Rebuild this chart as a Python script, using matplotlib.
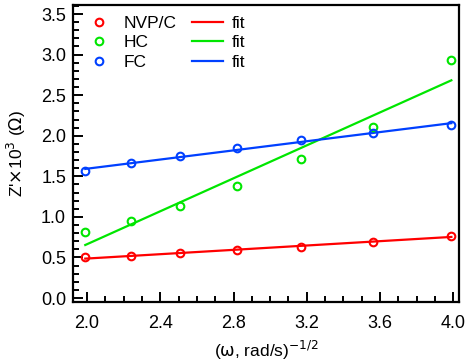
import numpy as np
import matplotlib
matplotlib.use("Agg")
import matplotlib.pyplot as plt
from matplotlib.ticker import MultipleLocator

plt.rcParams["font.family"] = ["Liberation Sans", "DejaVu Sans"]

# data: x = omega^-1/2, y = Z' x 10^3
x = [1.99, 2.24, 2.51, 2.82, 3.17, 3.56, 3.99]
nvp_c = [0.50, 0.52, 0.55, 0.59, 0.63, 0.69, 0.77]
hc = [0.81, 0.95, 1.13, 1.38, 1.71, 2.11, 2.93]
fc = [1.56, 1.66, 1.75, 1.85, 1.95, 2.03, 2.13]

series = [("NVP/C", nvp_c, "#ff0000"), ("HC", hc, "#00e600"), ("FC", fc, "#0040ff")]

fig = plt.figure(figsize=(4.71, 3.64), dpi=100)
ax = fig.add_axes([0.155, 0.170, 0.820, 0.816])

xs = np.array(x)
pts, lines = [], []
for name, y, c in series:
    p, = ax.plot(xs, y, "o", mfc="none", mec=c, mew=1.5, ms=5.5, label=name, zorder=3)
    k, b = np.polyfit(xs, y, 1)
    l, = ax.plot(xs, k * xs + b, "-", color=c, lw=1.6, label="fit", zorder=2)
    pts.append(p)
    lines.append(l)

ax.legend(pts + lines, [s[0] for s in series] + ["fit"] * 3, ncol=2, loc="upper left",
          frameon=False, fontsize=12.5, handlelength=1.8, handletextpad=0.5,
          columnspacing=0.9, labelspacing=0.25, borderaxespad=0.2,
          bbox_to_anchor=(0.0, 1.0))

ax.set_xlim(1.923, 4.033)
ax.set_ylim(-0.05, 3.61)
ax.xaxis.set_major_locator(MultipleLocator(0.4))
ax.xaxis.set_minor_locator(MultipleLocator(0.1))
ax.yaxis.set_major_locator(MultipleLocator(0.5))
ax.yaxis.set_minor_locator(MultipleLocator(0.1))
ax.tick_params(which="both", direction="in", top=False, right=False, labelsize=13, width=1.4)
ax.tick_params(which="major", length=7)
ax.tick_params(which="minor", length=4)
ax.tick_params(axis="x", which="major", pad=9)
ax.tick_params(axis="y", which="major", pad=5)
for s in ax.spines.values():
    s.set_linewidth(1.6)

ax.set_xlabel(r"($\mathrm{\omega}$, rad/s)$^{-1/2}$", fontsize=12.5, labelpad=5)
ax.set_ylabel(r"Z'$\times$10$^{3}$ ($\Omega$)", fontsize=12.5, labelpad=9)

fig.savefig("out.png", dpi=100)
